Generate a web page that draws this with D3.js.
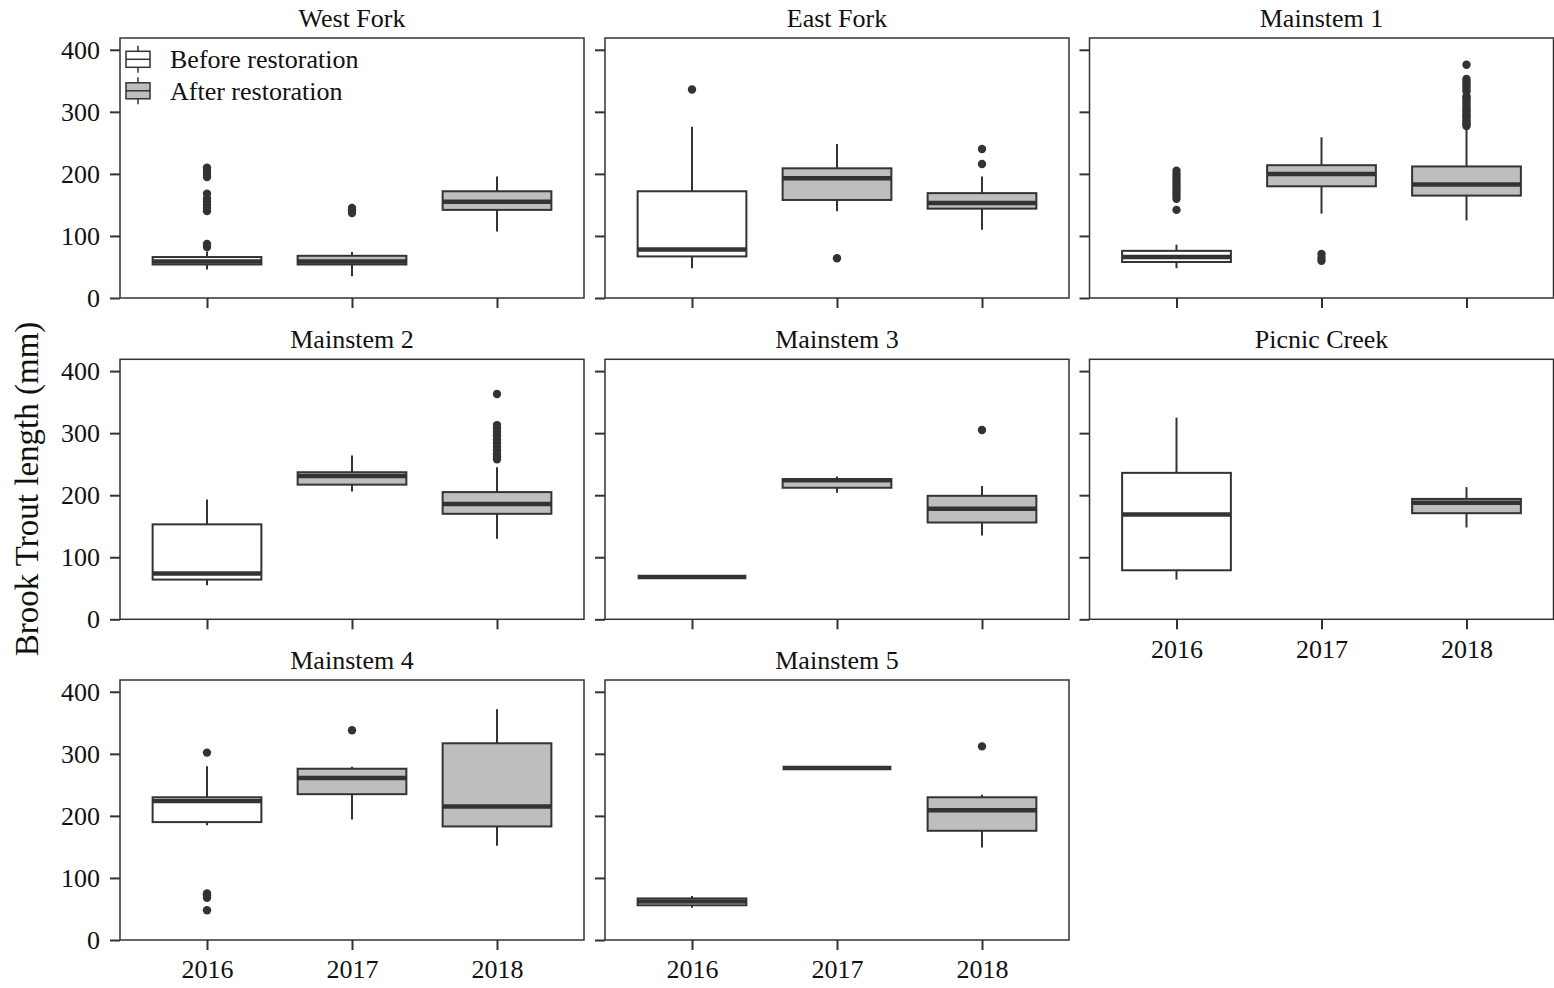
<!DOCTYPE html>
<html>
<head>
<meta charset="utf-8">
<script src="https://cdn.jsdelivr.net/npm/d3@7"></script>
<style>
  html, body { margin: 0; padding: 0; background: #fff; }
  svg { display: block; font-family: "Liberation Serif", "Times New Roman", serif; }
</style>
</head>
<body>
<svg id="chart" width="1554" height="988"></svg>
<script>
// Brook Trout length by site and year, summarised as boxplot statistics (mm)
const sites = ["West Fork", "East Fork", "Mainstem 1", "Mainstem 2", "Mainstem 3",
               "Picnic Creek", "Mainstem 4", "Mainstem 5"];
const years = ["2016", "2017", "2018"];
const period = ["Before restoration", "After restoration", "After restoration"];
const periods = ["Before restoration", "After restoration"];
const yTicks = [0, 100, 200, 300, 400];

// one row per site, one column per year (null = no fish sampled)
const whiskerLow = [
  [46, 35, 107],
  [48, 140, 110],
  [48, 136, 125],
  [55, 206, 130],
  [68, 204, 135],
  [64, null, 148],
  [185, 194, 152],
  [52, 277, 149]
];
const q1 = [
  [54, 54, 142],
  [67, 158, 144],
  [58, 180, 165],
  [64, 217, 170],
  [68, 212, 156],
  [79, null, 171],
  [190, 235, 183],
  [56, 277, 176]
];
const median = [
  [59, 59, 155],
  [78, 193, 153],
  [66, 200, 183],
  [74, 231, 186],
  [68, 224, 178],
  [169, null, 188],
  [224, 261, 215],
  [62, 277, 209]
];
const q3 = [
  [66, 68, 172],
  [172, 209, 169],
  [76, 214, 212],
  [153, 237, 205],
  [68, 226, 199],
  [236, null, 194],
  [230, 276, 317],
  [67, 277, 230]
];
const whiskerHigh = [
  [75, 74, 196],
  [276, 248, 196],
  [86, 259, 277],
  [193, 264, 245],
  [68, 230, 215],
  [325, null, 213],
  [280, 279, 372],
  [71, 277, 234]
];
const outliers = [
  [[82, 87, 140, 145, 150, 155, 160, 168, 195, 200, 205, 210], [137, 141, 145], []],
  [[336], [64], [216, 240]],
  [[142, 160, 165, 170, 175, 180, 185, 190, 195, 200, 205], [60, 65, 71],
   [277, 280, 283, 286, 290, 293, 296, 300, 303, 306, 310, 314, 318, 322, 325, 333, 337, 341, 345, 349, 353, 376]],
  [[], [], [258, 262, 266, 272, 278, 284, 290, 296, 302, 308, 313, 363]],
  [[], [], [305]],
  [[], [], []],
  [[48, 68, 72, 75, 302], [338], []],
  [[], [], [312]]
];

// ---- layout ----
const svg = d3.select("#chart");
const panelW = 464, panelH = 260;
const colX = [120, 605, 1089.5];
const rowY = [38, 359.3, 680];
const ink = "#333333";
const fillColor = d3.scaleOrdinal().domain(periods).range(["#ffffff", "#bebebe"]);
const fontSize = 26;

const x = d3.scalePoint().domain(years).range([0, panelW]).padding(0.6);
const y = d3.scaleLinear().domain([0, 419]).range([panelH, 0]);
const boxW = x.step() * 0.75;

sites.forEach((site, s) => {
  const col = s % 3, row = Math.floor(s / 3);
  const g = svg.append("g").attr("transform", `translate(${colX[col]},${rowY[row]})`);

  // panel background and title
  g.append("rect").attr("width", panelW).attr("height", panelH).attr("fill", "#fff");
  g.append("text")
    .attr("x", panelW / 2).attr("y", -11)
    .attr("text-anchor", "middle")
    .attr("font-size", fontSize).attr("fill", "#111")
    .text(site);

  // x labels only on the bottom panel of each column
  const showX = (row === 2) || (col === 2 && row === 1);
  const xAxis = d3.axisBottom(x).tickSize(10).tickPadding(10)
    .tickFormat(showX ? d => d : () => "");
  const yAxis = d3.axisLeft(y).tickValues(yTicks).tickSize(10).tickPadding(10)
    .tickFormat(col === 0 ? d3.format("d") : () => "");

  const ax = g.append("g").attr("transform", `translate(0,${panelH})`).call(xAxis);
  const ay = g.append("g").call(yAxis);
  [ax, ay].forEach(a => {
    a.select(".domain").remove();
    a.selectAll(".tick line").attr("stroke", ink).attr("stroke-width", 2);
    a.selectAll(".tick text").attr("font-size", fontSize).attr("fill", "#111")
      .attr("font-family", "Liberation Serif, Times New Roman, serif");
  });

  // boxes
  years.forEach((yr, k) => {
    if (median[s][k] === null) return;
    const cx = x(yr);
    const bg = g.append("g");
    bg.append("line")
      .attr("x1", cx).attr("x2", cx)
      .attr("y1", y(whiskerLow[s][k])).attr("y2", y(whiskerHigh[s][k]))
      .attr("stroke", ink).attr("stroke-width", 2);
    bg.append("rect")
      .attr("x", cx - boxW / 2).attr("width", boxW)
      .attr("y", y(q3[s][k])).attr("height", y(q1[s][k]) - y(q3[s][k]))
      .attr("fill", fillColor(period[k]))
      .attr("stroke", ink).attr("stroke-width", 2);
    bg.append("line")
      .attr("x1", cx - boxW / 2).attr("x2", cx + boxW / 2)
      .attr("y1", y(median[s][k])).attr("y2", y(median[s][k]))
      .attr("stroke", ink).attr("stroke-width", 4.5);
    bg.selectAll("circle").data(outliers[s][k]).join("circle")
      .attr("cx", cx).attr("cy", d => y(d)).attr("r", 4.2)
      .attr("fill", ink);
  });

  // panel border
  g.append("rect").attr("width", panelW).attr("height", panelH)
    .attr("fill", "none").attr("stroke", ink).attr("stroke-width", 1.5);
});

// legend inside the first panel
const legend = svg.append("g").attr("transform", `translate(${colX[0]},${rowY[0]})`);
periods.forEach((p, i) => {
  const cy = 21.3 + i * 31.5;
  const kx = 18;
  const lg = legend.append("g");
  lg.append("line").attr("x1", kx).attr("x2", kx)
    .attr("y1", cy - 13.5).attr("y2", cy + 13.5)
    .attr("stroke", ink).attr("stroke-width", 1.5);
  lg.append("rect").attr("x", kx - 12).attr("width", 24)
    .attr("y", cy - 8).attr("height", 16)
    .attr("fill", fillColor(p)).attr("stroke", ink).attr("stroke-width", 1.5);
  lg.append("line").attr("x1", kx - 12).attr("x2", kx + 12)
    .attr("y1", cy).attr("y2", cy)
    .attr("stroke", ink).attr("stroke-width", 1.5);
  lg.append("text").attr("x", 50).attr("y", cy).attr("dy", "0.35em")
    .attr("font-size", fontSize).attr("fill", "#111")
    .text(p);
});

// shared y-axis title
svg.append("text")
  .attr("transform", `translate(26,489) rotate(-90)`)
  .attr("text-anchor", "middle").attr("dy", "0.35em")
  .attr("font-size", 33).attr("fill", "#111")
  .text("Brook Trout length (mm)");
</script>
</body>
</html>
